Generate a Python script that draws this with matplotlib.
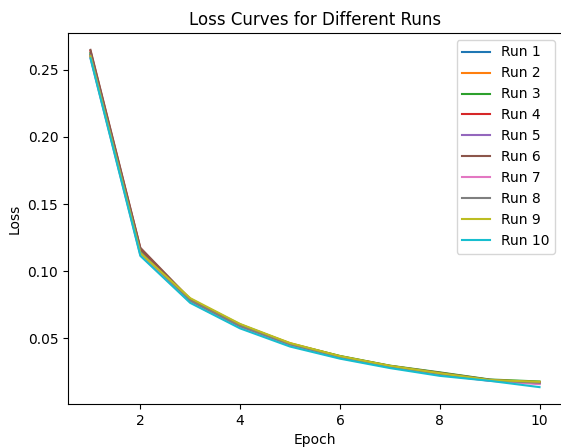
import numpy as np
import matplotlib.pyplot as plt

# Epochs and per-run training loss
epochs = [1, 2, 3, 4, 5, 6, 7, 8, 9, 10]
run_names = ['Run 1', 'Run 2', 'Run 3', 'Run 4', 'Run 5',
             'Run 6', 'Run 7', 'Run 8', 'Run 9', 'Run 10']

run1 = [0.2615, 0.1140, 0.0780, 0.0590, 0.0455, 0.0360, 0.0290, 0.0235, 0.0190, 0.0165]
run2 = [0.2605, 0.1150, 0.0795, 0.0600, 0.0465, 0.0368, 0.0295, 0.0240, 0.0192, 0.0170]
run3 = [0.2625, 0.1160, 0.0790, 0.0605, 0.0462, 0.0370, 0.0298, 0.0248, 0.0195, 0.0180]
run4 = [0.2640, 0.1170, 0.0785, 0.0598, 0.0458, 0.0365, 0.0293, 0.0238, 0.0188, 0.0175]
run5 = [0.2595, 0.1130, 0.0775, 0.0585, 0.0450, 0.0358, 0.0288, 0.0232, 0.0186, 0.0168]
run6 = [0.2648, 0.1175, 0.0792, 0.0602, 0.0460, 0.0366, 0.0296, 0.0245, 0.0193, 0.0172]
run7 = [0.2590, 0.1120, 0.0770, 0.0580, 0.0448, 0.0355, 0.0286, 0.0230, 0.0185, 0.0160]
run8 = [0.2610, 0.1145, 0.0782, 0.0592, 0.0456, 0.0362, 0.0291, 0.0236, 0.0189, 0.0170]
run9 = [0.2600, 0.1135, 0.0800, 0.0608, 0.0466, 0.0369, 0.0297, 0.0242, 0.0191, 0.0178]
run10 = [0.2585, 0.1115, 0.0765, 0.0575, 0.0440, 0.0350, 0.0280, 0.0222, 0.0185, 0.0138]

losses = [run1, run2, run3, run4, run5, run6, run7, run8, run9, run10]

fig = plt.figure(figsize=(5.61, 4.47), dpi=100)
ax = fig.add_axes([68 / 561, (447 - 404) / 447, 494 / 561, (404 - 33) / 447])

for name, vals in zip(run_names, losses):
    ax.plot(epochs, vals, label=name)

ax.set_title('Loss Curves for Different Runs')
ax.set_xlabel('Epoch')
ax.set_ylabel('Loss')
ax.legend()

fig.savefig('out.png', dpi=100)
